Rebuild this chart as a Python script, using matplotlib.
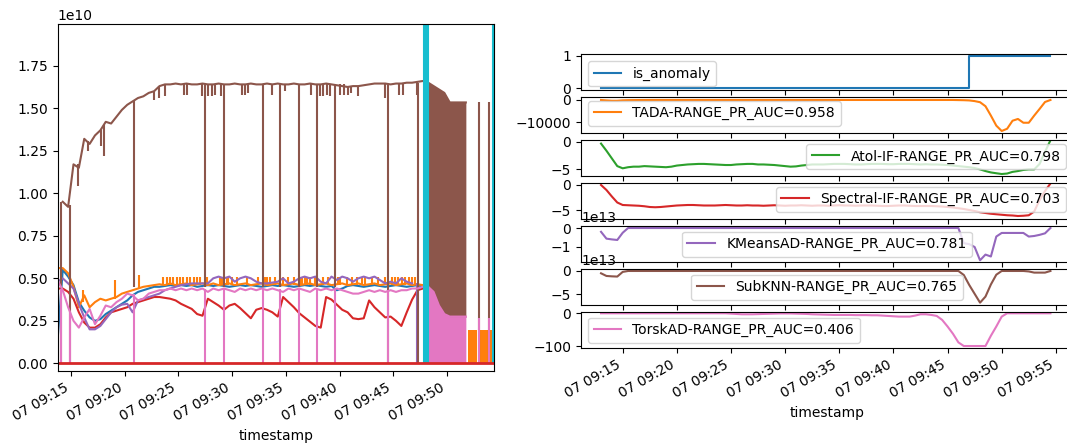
import numpy as np
import pandas as pd
import matplotlib
matplotlib.use("Agg")
import matplotlib.pyplot as plt
import matplotlib.dates as mdates

day = "2023-03-07 "
nan = np.nan


def clock(times):
    return pd.to_datetime([day + c for c in times])


# ---------------- left panel: raw metrics (x 1e10), sampled every 30 s
t_left = pd.date_range(day + "09:13:45", periods=82, freq="30s")

blue = [0.12, 0.55, 0.51, 0.46, 0.36, 0.31, 0.27, 0.25, 0.26, 0.29,
        0.31, 0.33, 0.35, 0.37, 0.40, 0.42, 0.43, 0.44, 0.45, 0.45,
        0.455, 0.46, 0.455, 0.46, 0.455, 0.46, 0.45, 0.455, 0.46, 0.455,
        0.46, 0.455, 0.45, 0.455, 0.46, 0.455, 0.46, 0.455, 0.45, 0.455,
        0.46, 0.455, 0.46, 0.455, 0.45, 0.455, 0.46, 0.455, 0.46, 0.455,
        0.45, 0.455, 0.43, 0.44, 0.455, 0.46, 0.455, 0.45, 0.455, 0.46,
        0.455, 0.45, 0.455, 0.46, 0.455, 0.45, 0.455, 0.46, 0.45, nan,
        nan, nan, nan, nan, nan, nan, nan, nan, nan, nan, nan, nan]

orange = [0.56, 0.56, 0.53, 0.45, 0.33, 0.40, 0.33, 0.36, 0.38, 0.37,
          0.38, 0.39, 0.41, 0.42, 0.43, 0.44, 0.45, 0.455, 0.46, 0.465,
          0.46, 0.47, 0.46, 0.465, 0.47, 0.46, 0.465, 0.47, 0.46, 0.47,
          0.46, 0.465, 0.47, 0.46, 0.465, 0.47, 0.46, 0.465, 0.47, 0.46,
          0.465, 0.47, 0.46, 0.465, 0.47, 0.46, 0.465, 0.47, 0.46, 0.465,
          0.47, 0.46, 0.465, 0.47, 0.46, 0.465, 0.47, 0.46, 0.465, 0.47,
          0.46, 0.465, 0.47, 0.46, 0.465, 0.47, 0.46, 0.465, 0.46, nan,
          nan, nan, nan, nan, nan, nan, nan, nan, nan, nan, nan, nan]

red = [0.44, 0.44, 0.42, 0.38, 0.30, 0.24, 0.21, 0.21, 0.23, 0.27,
       0.30, 0.31, 0.32, 0.33, 0.35, 0.36, 0.37, 0.38, 0.39, 0.39,
       0.385, 0.38, 0.37, 0.35, 0.335, 0.32, 0.29, 0.28, 0.38, 0.36,
       0.34, 0.315, 0.34, 0.35, 0.325, 0.295, 0.265, 0.315, 0.325, 0.315,
       0.30, 0.275, 0.39, 0.36, 0.33, 0.295, 0.27, 0.245, 0.22, 0.21,
       0.39, 0.375, 0.345, 0.315, 0.30, 0.265, 0.26, 0.265, 0.37, 0.33,
       0.30, 0.27, 0.275, 0.25, 0.22, 0.30, 0.375, 0.43, 0.44, nan,
       nan, nan, nan, nan, nan, nan, nan, nan, nan, nan, nan, nan]

purple = [0.48, 0.50, 0.47, 0.44, 0.35, 0.27, 0.20, 0.20, 0.22, 0.26,
          0.30, 0.33, 0.345, 0.35, 0.30, 0.37, 0.38, 0.39, 0.40, 0.41,
          0.43, 0.44, 0.45, 0.46, 0.465, 0.47, 0.47, 0.47, 0.47, 0.50,
          0.51, 0.50, 0.51, 0.48, 0.50, 0.51, 0.50, 0.48, 0.47, 0.47,
          0.475, 0.48, 0.50, 0.47, 0.48, 0.50, 0.51, 0.50, 0.51, 0.48,
          0.47, 0.51, 0.49, 0.51, 0.50, 0.48, 0.50, 0.51, 0.50, 0.51,
          0.49, 0.47, 0.48, 0.47, 0.50, 0.48, 0.47, nan, nan, nan,
          nan, nan, nan, nan, nan, nan, nan, nan, nan, nan, nan, nan]

brown = [nan, 0.95, 0.92, 1.17, 1.15, 1.32, 1.29, 1.34, 1.37, 1.42,
         1.41, 1.45, 1.49, 1.52, 1.54, 1.56, 1.57, 1.59, 1.60, 1.63,
         1.64, 1.64, 1.645, 1.64, 1.645, 1.64, 1.64, 1.645, 1.64, 1.64,
         1.645, 1.64, 1.64, 1.645, 1.64, 1.64, 1.645, 1.64, 1.64, 1.645,
         1.64, 1.645, 1.64, 1.64, 1.645, 1.64, 1.64, 1.645, 1.64, 1.64,
         1.645, 1.64, 1.635, 1.63, 1.625, 1.63, 1.63, 1.635, 1.64, 1.645,
         1.645, 1.645, 1.64, 1.645, 1.645, 1.65, 1.65, 1.655, 1.66, 1.65,
         1.63, 1.61, 1.59, 1.534, 1.534, 1.534, 1.534, nan, nan, nan, nan, nan]

pink = [0.49, 0.43, 0.33, 0.25, 0.21, 0.27, 0.32, 0.23, 0.28, 0.34,
        0.33, 0.36, 0.38, 0.41, 0.40, 0.37, 0.38, 0.41, 0.42, 0.43,
        0.43, 0.44, 0.43, 0.44, 0.43, 0.44, 0.43, 0.44, 0.42, 0.44,
        0.43, 0.44, 0.43, 0.42, 0.44, 0.43, 0.44, 0.43, 0.44, 0.43,
        0.44, 0.43, 0.42, 0.44, 0.43, 0.44, 0.43, 0.42, 0.44, 0.43,
        0.44, 0.43, 0.44, 0.43, 0.42, 0.41, 0.41, 0.42, 0.43, 0.42,
        0.43, 0.42, 0.43, 0.42, 0.43, 0.43, 0.44, 0.44, 0.45, 0.45,
        0.42, 0.34, 0.29, 0.275, 0.275, 0.275, 0.275, nan, nan, nan, nan, nan]

# short spikes between samples
orange_spike_times = ["09:16:06", "09:19:06", "09:21:21"]
orange_spike_low = [0.36, 0.38, 0.44]
orange_spike_high = [0.43, 0.49, 0.52]
orange_comb_times = ["09:23:37", "09:23:56", "09:24:14", "09:24:33", "09:24:52", "09:25:10",
                     "09:25:29", "09:25:47", "09:26:06", "09:26:25", "09:26:43", "09:27:02",
                     "09:27:39", "09:28:53", "09:29:03", "09:29:30", "09:29:40", "09:29:58",
                     "09:30:26", "09:31:22", "09:32:27", "09:33:04", "09:33:14", "09:33:32",
                     "09:34:00", "09:34:47", "09:35:15", "09:35:43", "09:36:20", "09:36:29",
                     "09:36:48", "09:36:57", "09:37:16", "09:37:44", "09:38:30", "09:38:58",
                     "09:39:54", "09:40:03", "09:40:40", "09:41:08", "09:41:36", "09:42:04",
                     "09:42:23", "09:43:00", "09:43:37", "09:44:14", "09:44:52", "09:45:10",
                     "09:45:29", "09:45:47", "09:46:06", "09:46:25", "09:46:43", "09:47:02"]
orange_comb_low, orange_comb_high = 0.46, 0.51
orange_blocks = [("09:51:59", "09:52:46"), ("09:53:06", "09:54:12")]
orange_block_top = 0.196

purple_drop_times = ["09:47:10"]
purple_drop_high = [0.47]

brown_drop_times = ["09:14:06", "09:14:54", "09:20:55", "09:27:29", "09:29:17", "09:32:55",
                    "09:34:30", "09:36:13", "09:37:55", "09:39:34", "09:44:32", "09:47:17",
                    "09:53:00", "09:53:56"]
brown_drop_high = [0.95, 0.93, 1.55, 1.64, 1.64, 1.64, 1.64, 1.64, 1.64, 1.64, 1.64, 1.65,
                   1.534, 1.534]
brown_drop_low = [0.0, 0.0, 0.45, 0.45, 0.45, 0.45, 0.45, 0.45, 0.45, 0.45, 0.0, 0.0,
                  0.0, 0.0]
brown_dip_times = ["09:15:39", "09:16:36", "09:17:48", "09:18:06", "09:22:45", "09:23:12",
                   "09:23:48", "09:25:30", "09:25:48", "09:27:12", "09:27:48", "09:28:06",
                   "09:28:24", "09:29:00", "09:30:54", "09:31:12", "09:31:30", "09:33:42",
                   "09:34:54", "09:37:18", "09:38:12", "09:38:30", "09:38:48", "09:39:06",
                   "09:40:00", "09:40:24", "09:40:48", "09:41:06", "09:41:42", "09:44:12",
                   "09:45:30", "09:45:54", "09:47:12"]
brown_dip_high = [1.17, 1.31, 1.37, 1.40, 1.60, 1.63, 1.64, 1.64, 1.64, 1.64, 1.64, 1.64,
                  1.64, 1.64, 1.64, 1.64, 1.64, 1.64, 1.64, 1.64, 1.64, 1.64, 1.64, 1.64,
                  1.64, 1.64, 1.63, 1.63, 1.63, 1.645, 1.645, 1.645, 1.655]
brown_dip_low = [1.04, 1.25, 1.28, 1.22, 1.55, 1.56, 1.57, 1.58, 1.58, 1.57, 1.57, 1.57,
                 1.58, 1.57, 1.58, 1.58, 1.59, 1.58, 1.60, 1.58, 1.57, 1.57, 1.58, 1.57,
                 1.58, 1.58, 1.58, 1.59, 1.57, 1.56, 1.58, 1.58, 1.58]
brown_band = ("09:48:15", "09:51:45")
brown_band_floor = 0.27

pink_drop_times = ["09:14:06", "09:14:56", "09:20:55", "09:27:29", "09:29:17", "09:32:55",
                   "09:34:30", "09:36:13", "09:37:55", "09:39:34", "09:44:32", "09:53:00",
                   "09:53:56"]
pink_drop_high = [0.44, 0.30, 0.41, 0.44, 0.44, 0.44, 0.44, 0.44, 0.44, 0.44, 0.43,
                  0.265, 0.265]
pink_band = ("09:47:45", "09:51:45")

cyan_times = ["09:47:50", "09:47:55", "09:48:00", "09:48:05", "09:48:10", "09:48:15",
              "09:54:15"]
cyan_high = 2.5

# ---------------- right panel: anomaly scores, sampled every 30 s from 09:13:00
t_right = pd.date_range(day + "09:13:00", periods=84, freq="30s")

is_anomaly = [0] * 68 + [1] * 16

tada = ([0, -200, -350, -350, -150, -80, -50, -30, -20, -10] + [0] * 54 +
        [0, 0, -50, -100, -200, -500, -1000, -2800, -7000, -11500,
         -13900, -12900, -9300, -8500, -10200, -10200, -7000, -4000, -900, 0])

atol = [-0.3, -1.6, -3.0, -4.4, -4.8, -4.6, -4.5, -4.5, -4.4, -4.45,
        -4.5, -4.55, -4.6, -4.5, -4.3, -4.2, -4.1, -4.05, -4.0, -4.0,
        -4.05, -4.1, -4.15, -4.2, -4.2, -4.1, -4.05, -4.0, -4.0, -4.1,
        -4.1, -4.15, -4.2, -4.3, -4.4, -4.5, -4.45, -4.3, -4.2, -4.1,
        -4.1, -4.1, -4.05, -4.0, -4.0, -4.0, -4.05, -4.1, -4.1, -4.05,
        -4.0, -4.0, -4.0, -4.05, -4.05, -4.0, -4.0, -4.0, -4.05, -4.1,
        -4.05, -4.1, -4.1, -4.15, -4.2, -4.3, -4.4, -4.5, -4.6, -4.75,
        -5.0, -5.3, -5.55, -5.7, -5.84, -5.75, -5.45, -5.3, -5.1, -5.0,
        -5.0, -4.0, -1.8, 0.3]

spectral = [0.0, -1.0, -2.3, -3.5, -4.0, -4.05, -4.1, -4.15, -4.25, -4.4,
            -4.45, -4.4, -4.3, -4.2, -4.1, -4.05, -4.0, -4.0, -4.05, -4.1,
            -4.1, -4.1, -4.05, -4.0, -4.05, -4.1, -4.1, -4.05, -4.1, -4.1,
            -4.15, -4.1, -4.05, -4.1, -4.15, -4.1, -4.1, -4.05, -4.1, -4.15,
            -4.1, -4.1, -4.15, -4.1, -4.05, -4.1, -4.1, -4.15, -4.1, -4.1,
            -4.1, -4.15, -4.2, -4.2, -4.15, -4.1, -4.1, -4.15, -4.2, -4.2,
            -4.2, -4.2, -4.25, -4.3, -4.4, -4.5, -4.65, -4.8, -5.0, -5.2,
            -5.45, -5.6, -5.75, -5.85, -5.95, -6.05, -6.1, -6.2, -6.15, -6.05,
            -5.3, -3.0, -1.2, 0.3]

kmeans = ([-0.2, -0.56, -0.6, -0.63, -0.25] + [0] * 61 +
          [0, -0.8, -0.85, -1.0, -1.7, -1.4, -1.5, -0.45, -0.26, -0.26,
           -0.26, -0.26, -0.26, -0.45, -0.42, -0.36, -0.28, 0])

subknn = ([-0.5, -1.07, -1.15, -1.2, -0.2] + [0] * 61 +
          [0, -0.86, -3.0, -4.9, -6.8, -5.5, -2.9, -0.8, 0, 0,
           0, 0, 0, -0.1, -0.35, -0.35, -0.35, 0])

torsk = ([0] * 24 +
         [-1, -2, -3, -3, -3, -2.5, -2, -1.5, -1, -0.5,
          -0.5, -0.5, -1, -1.5, -2, -3, -3.5, -4, -4.5, -5,
          -5, -5, -5, -5.5, -5.5, -5.5, -6, -6, -7, -8,
          -9, -10, -10, -10, -7, -3, -3, -5, -8, -20,
          -40, -62, -88, -99, -99, -99, -99, -99, -68, -40,
          -10, 0, 0, 0, 0, 0, 0, 0, 0, 0])

score_names = ["is_anomaly", "TADA-RANGE_PR_AUC=0.958", "Atol-IF-RANGE_PR_AUC=0.798",
               "Spectral-IF-RANGE_PR_AUC=0.703", "KMeansAD-RANGE_PR_AUC=0.781",
               "SubKNN-RANGE_PR_AUC=0.765", "TorskAD-RANGE_PR_AUC=0.406"]
score_scale = [1, 1, 1, 1, 1e13, 1e13, 1]
score_ticks = [[0, 1], [0, -10000], [0, -5], [0, -5], [0, -1], [0, -5], [0, -100]]
score_ylim = [(-0.05, 1.05), (-14800, 1200), (-6.2, 0.3), (-6.8, 0.34),
              (-1.79, 0.09), (-7.3, 0.36), (-105, 3)]
legend_loc = ["upper left", "lower left", "lower right", "lower right",
              "center", "center", "center left"]
colors = ["tab:blue", "tab:orange", "tab:green", "tab:red",
          "tab:purple", "tab:brown", "tab:pink"]

# ---------------- figure
fig = plt.figure(figsize=(10.67, 4.43), dpi=100)
ax = fig.add_axes([0.0541, 0.1625, 0.4092, 0.7833])
E = 1e10

ax.plot(t_left, np.array(blue) * E, color="tab:blue")
ax.plot(t_left, np.array(orange) * E, color="tab:orange")
ax.vlines(clock(orange_spike_times), np.array(orange_spike_low) * E,
          np.array(orange_spike_high) * E, color="tab:orange", lw=1.5)
ax.vlines(clock(orange_comb_times), orange_comb_low * E, orange_comb_high * E,
          color="tab:orange", lw=1.5)
for start, end in orange_blocks:
    ax.fill_between(clock([start, end]), 0, orange_block_top * E,
                    color="tab:orange", lw=0)
ax.plot(t_left, np.array(red) * E, color="tab:red")
ax.plot(t_left, np.array(purple) * E, color="tab:purple")
ax.vlines(clock(purple_drop_times), 0, np.array(purple_drop_high) * E,
          color="tab:purple", lw=1.5)

brown_arr = np.array(brown) * E
ax.plot(t_left, brown_arr, color="tab:brown")
in_band = (t_left >= pd.Timestamp(day + brown_band[0])) & (t_left <= pd.Timestamp(day + brown_band[1]))
ax.fill_between(t_left, brown_band_floor * E, brown_arr, where=in_band,
                color="tab:brown", lw=0)
ax.vlines(clock(brown_drop_times), np.array(brown_drop_low) * E,
          np.array(brown_drop_high) * E, color="tab:brown", lw=1.5)
ax.vlines(clock(brown_dip_times), np.array(brown_dip_low) * E,
          np.array(brown_dip_high) * E, color="tab:brown", lw=1.5)

pink_arr = np.array(pink) * E
ax.plot(t_left, pink_arr, color="tab:pink")
in_band = (t_left >= pd.Timestamp(day + pink_band[0])) & (t_left <= pd.Timestamp(day + pink_band[1]))
ax.fill_between(t_left, 0, pink_arr, where=in_band, color="tab:pink", lw=0)
ax.vlines(clock(pink_drop_times), 0, np.array(pink_drop_high) * E,
          color="tab:pink", lw=1.5)

ax.vlines(clock(cyan_times), 0, cyan_high * E, color="tab:cyan", lw=1.5)
ax.axhline(0, color="tab:red", lw=2)

ax.set_xlim(pd.Timestamp(day + "09:13:47"), pd.Timestamp(day + "09:54:24"))
ax.set_ylim(-0.045 * E, 1.995 * E)
ax.set_xlabel("timestamp")

# right: stacked score panels
axes = []
for i in range(7):
    top = 54.3 + 43.0 * i
    rect = [581 / 1067, (443 - top - 35.7) / 443, 492 / 1067, 35.7 / 443]
    a = fig.add_axes(rect, sharex=axes[0] if axes else None)
    axes.append(a)

series = [is_anomaly, tada, atol, spectral, kmeans, subknn, torsk]
for i, a in enumerate(axes):
    vals = np.array(series[i], dtype=float) * score_scale[i]
    if i == 0:
        a.plot(t_right, vals, color=colors[i], label=score_names[i], drawstyle="steps-post")
    else:
        a.plot(t_right, vals, color=colors[i], label=score_names[i])
    a.set_yticks(np.array(score_ticks[i]) * score_scale[i])
    lo, hi = score_ylim[i]
    a.set_ylim(lo * score_scale[i], hi * score_scale[i])
    a.legend(loc=legend_loc[i])
    if i < 6:
        a.tick_params(labelbottom=False)

axes[0].set_xlim(pd.Timestamp(day + "09:11:09"), pd.Timestamp(day + "09:56:35"))
axes[-1].set_xlabel("timestamp")

for a in [ax, axes[-1]]:
    a.xaxis.set_major_locator(mdates.MinuteLocator(byminute=range(0, 60, 5)))
    a.xaxis.set_major_formatter(mdates.DateFormatter("%d %H:%M"))
    for lab in a.get_xticklabels():
        lab.set_rotation(30)
        lab.set_ha("right")

fig.savefig("out.png", dpi=100)
